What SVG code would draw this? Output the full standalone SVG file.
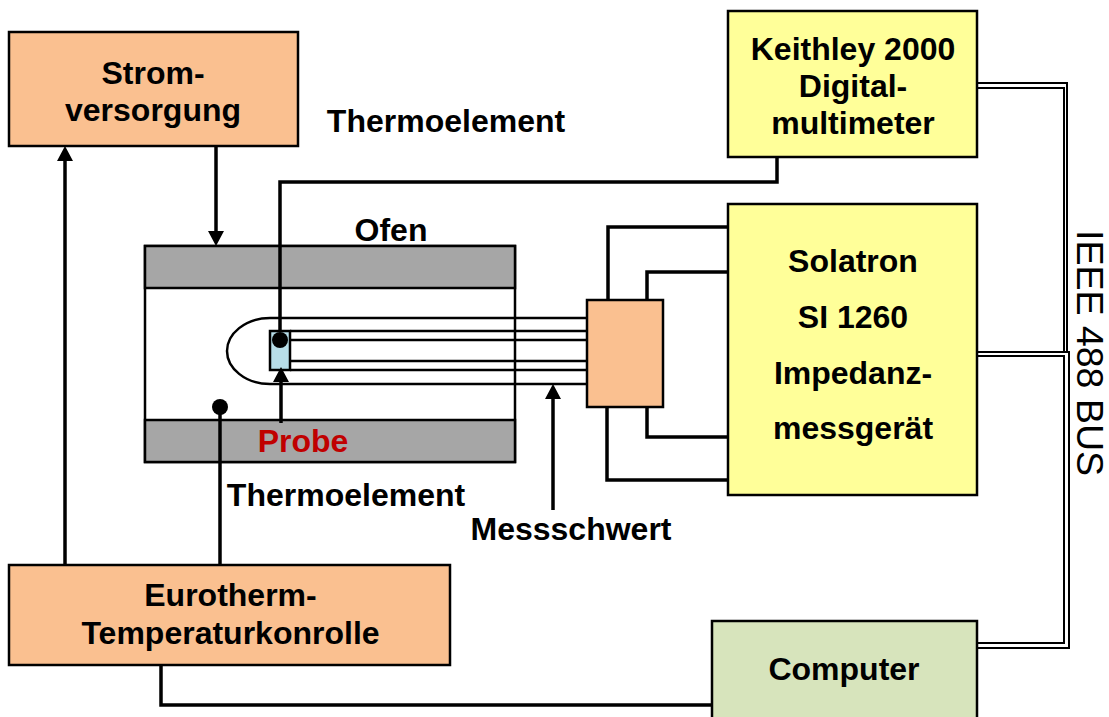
<svg xmlns="http://www.w3.org/2000/svg" width="1109" height="717" viewBox="0 0 1109 717">
<style>
text{font-family:"Liberation Sans",Arial,sans-serif;font-size:32px;font-weight:700;fill:#000;text-anchor:middle}
.box{stroke:#000;stroke-width:2.5}
.o{fill:#fac090}.y{fill:#ffff99}.g{fill:#d7e4bc}.f{fill:#a6a6a6}
.w{fill:none;stroke:#000;stroke-width:3.5}
.t{fill:none;stroke:#000;stroke-width:2.5}
.d{fill:none;stroke:#000;stroke-width:2}
</style>
<defs>
<marker id="a" markerUnits="userSpaceOnUse" markerWidth="16" markerHeight="16" refX="7" refY="8" orient="auto"><path d="M0 0L15 8L0 16Z"/></marker>
</defs>
<rect width="1109" height="717" fill="#fff"/>
<g id="ofen">
<rect class="t" x="145" y="246" width="370" height="216" fill="#fff"/>
<rect class="box f" x="145" y="246" width="370" height="42"/>
<rect class="box f" x="145" y="420" width="370" height="42"/>
</g>
<g id="messschwert">
<path class="t" d="M587 318H270C245 318 227 334 227 351C227 368 245 384 270 384H587" fill="#fff"/>
<path class="t" d="M290 331H587M290 340H587M290 361H587M290 370H587"/>
</g>
<g id="connectors">
<path class="w" d="M777 157V182H280V339"/>
<path class="w" d="M608 300V227H728M647 300V272H728M647 406V437H728M607 406V480H728"/>
<path class="w" d="M216 146V238" marker-end="url(#a)"/>
<path class="w" d="M65 565V154" marker-end="url(#a)"/>
<path class="w" d="M220 565V407"/>
<path class="w" d="M553 510V392" marker-end="url(#a)"/>
<path class="w" d="M161 665V705H711"/>
<path class="d" d="M977 83H1067V352M977 88H1064V352H977M977 356H1064V643H977M977 648H1069V352H1065"/>
<circle cx="220" cy="407" r="8"/>
</g>
<g id="probe"><rect x="270" y="331" width="20" height="39" fill="#b7dde8" stroke="#000" stroke-width="2.5"/><circle cx="280" cy="340" r="8"/><path class="w" d="M281 423V375" marker-end="url(#a)"/></g>
<g id="anschluss"><rect class="box o" x="587" y="300" width="76" height="107"/></g>
<g id="stromversorgung"><rect class="box o" x="9" y="32" width="289" height="114"/><text x="153" y="84">Strom-</text><text x="153" y="121">versorgung</text></g>
<g id="keithley"><rect class="box y" x="728" y="11" width="249" height="146"/><text x="853" y="60">Keithley 2000</text><text x="853" y="97">Digital-</text><text x="853" y="134">multimeter</text></g>
<g id="solatron"><rect class="box y" x="728" y="204" width="249" height="291"/><text x="853" y="272">Solatron</text><text x="853" y="328">SI 1260</text><text x="853" y="384">Impedanz-</text><text x="853" y="439">messgerät</text></g>
<g id="eurotherm"><rect class="box o" x="9" y="565" width="441" height="100"/><text x="230.500" y="606">Eurotherm-</text><text x="230.500" y="644">Temperaturkonrolle</text></g>
<g id="computer"><rect class="box g" x="712" y="621" width="265" height="100"/><text x="844" y="680">Computer</text></g>
<g id="labels">
<text x="446" y="132">Thermoelement</text>
<text x="391" y="241">Ofen</text>
<text x="303" y="452" style="fill:#c00000">Probe</text>
<text x="346" y="506">Thermoelement</text>
<text x="571" y="540">Messschwert</text>
<text transform="translate(1077 353) rotate(90)" style="font-weight:400;font-size:37.5px">IEEE 488 BUS</text>
</g>
</svg>
